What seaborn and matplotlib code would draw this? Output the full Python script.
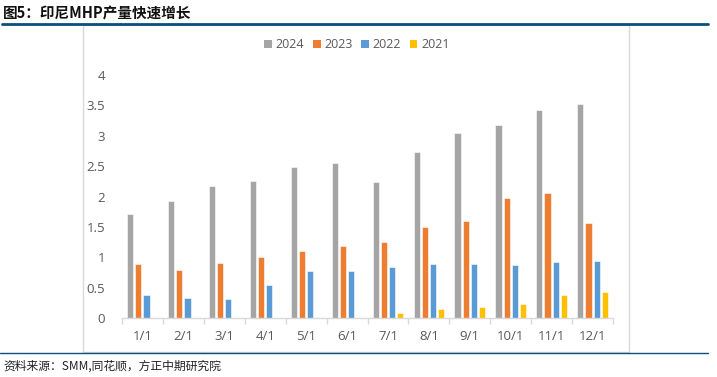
import numpy as np
import pandas as pd
import seaborn as sns
import matplotlib
matplotlib.use("Agg")
import matplotlib.pyplot as plt
from matplotlib.lines import Line2D
from matplotlib.patches import Rectangle

categories = ["1/1", "2/1", "3/1", "4/1", "5/1", "6/1", "7/1", "8/1", "9/1", "10/1", "11/1", "12/1"]
years = ["2024", "2023", "2022", "2021"]
v2024 = [1.72, 1.93, 2.17, 2.25, 2.49, 2.55, 2.24, 2.74, 3.05, 3.17, 3.42, 3.52]
v2023 = [0.89, 0.79, 0.91, 1.00, 1.10, 1.19, 1.25, 1.50, 1.60, 1.98, 2.05, 1.56]
v2022 = [0.38, 0.33, 0.31, 0.55, 0.78, 0.78, 0.84, 0.89, 0.89, 0.87, 0.92, 0.94]
v2021 = [None, None, None, None, None, None, 0.08, 0.15, 0.18, 0.23, 0.38, 0.42]
colors = ["#A5A5A5", "#ED7D31", "#5B9BD5", "#FFC000"]

series = {"2024": v2024, "2023": v2023, "2022": v2022, "2021": v2021}
rows = []
for y in years:
    for c, v in zip(categories, series[y]):
        rows.append({"month": c, "year": y, "value": np.nan if v is None else v})
df = pd.DataFrame(rows)

sns.set_theme(style="white")
plt.rcParams["font.family"] = ["Open Sans", "Noto Sans CJK SC", "DejaVu Sans"]

fig = plt.figure(figsize=(7.17, 3.77), dpi=100)
ax = fig.add_axes([122 / 717, 1 - 318 / 377, (613 - 122) / 717, (318 - 75) / 377])

sns.barplot(data=df, x="month", y="value", hue="year", order=categories,
            hue_order=years, palette=colors, saturation=1, gap=0.25, width=0.8,
            edgecolor="white", linewidth=0.4, ax=ax, legend=True)

ax.set_ylim(0, 4)
ax.set_xlim(-0.5, len(categories) - 0.5)
ax.set_yticks(np.arange(0, 4.01, 0.5))
ax.set_yticklabels(["0", "0.5", "1", "1.5", "2", "2.5", "3", "3.5", "4"])
ax.set_xlabel("")
ax.set_ylabel("")
for s in ["top", "right", "left"]:
    ax.spines[s].set_visible(False)
ax.spines["bottom"].set_color("#D9D9D9")
ax.spines["bottom"].set_linewidth(1.0)
ax.set_xticks(np.arange(-0.5, len(categories), 1.0), minor=True)
ax.tick_params(axis="x", which="major", length=0, pad=9, labelsize=9.5, labelcolor="#595959")
ax.tick_params(axis="x", which="minor", length=4, color="#D9D9D9", width=1, direction="out", bottom=True)
ax.tick_params(axis="y", length=0, pad=12, labelsize=9.5, labelcolor="#595959")

leg = ax.legend(loc="center", bbox_to_anchor=(357 / 717, 1 - 45 / 377),
                bbox_transform=fig.transFigure, ncol=4, frameon=False,
                fontsize=9, handlelength=0.6, handleheight=0.6,
                handletextpad=0.3, columnspacing=0.7)
for t in leg.get_texts():
    t.set_color("#595959")
for h in leg.legend_handles:
    h.set_edgecolor("none")

# chart frame
fig.add_artist(Rectangle((83 / 717, 1 - 352 / 377), (629 - 83) / 717, (352 - 25) / 377,
                         transform=fig.transFigure, fill=False, edgecolor="#D9D9D9", linewidth=1.0))
# header/footer lines
fig.add_artist(Line2D([2 / 717, 708 / 717], [1 - 24 / 377, 1 - 24 / 377],
                      transform=fig.transFigure, color="#0B4F7C", linewidth=2.0))
fig.add_artist(Line2D([0 / 717, 708 / 717], [1 - 353 / 377, 1 - 353 / 377],
                      transform=fig.transFigure, color="#0B4F7C", linewidth=1.0))

fig.text(3 / 717, 1 - 13 / 377, "图5：印尼MHP产量快速增长", ha="left", va="center",
         fontsize=10.5, fontweight="bold", color="#111111",
         family=["Noto Sans CJK SC", "DejaVu Sans"])
fig.text(3 / 717, 1 - 366 / 377, "资料来源：SMM,同花顺，方正中期研究院", ha="left", va="center",
         fontsize=8.5, style="italic", color="#222222",
         family=["Noto Sans CJK SC", "DejaVu Sans"])

fig.savefig("out.png", dpi=100)
